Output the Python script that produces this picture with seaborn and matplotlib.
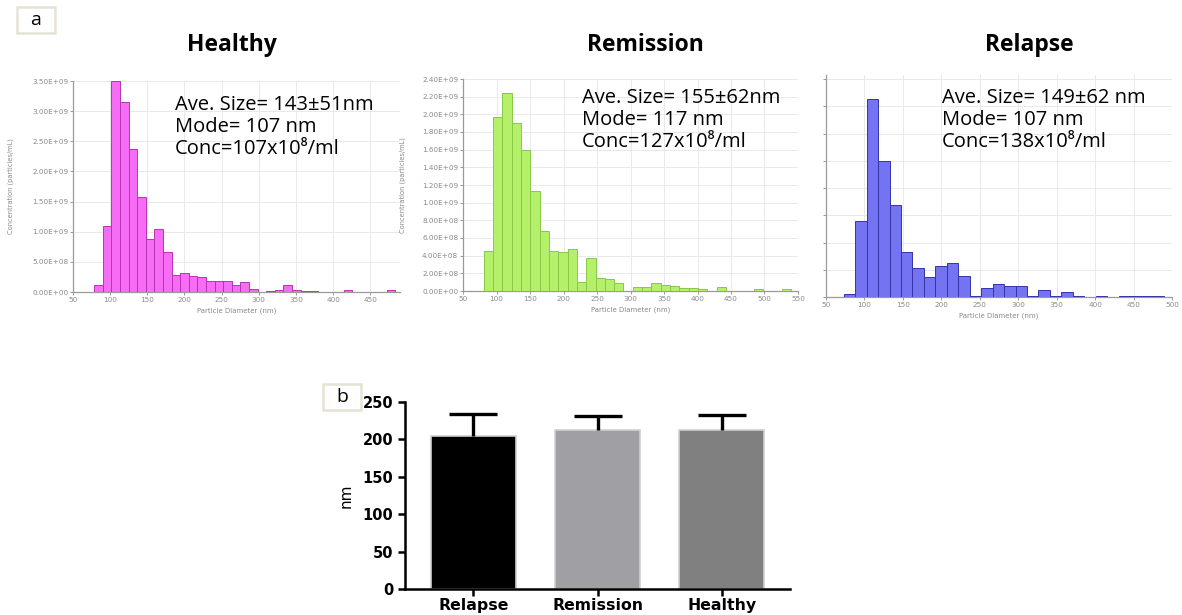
import numpy as np
import pandas as pd
import matplotlib
matplotlib.use("Agg")
import matplotlib.pyplot as plt
import seaborn as sns
from matplotlib.patches import Rectangle
from matplotlib.ticker import FuncFormatter, MultipleLocator

# ---------------- data ----------------
# Healthy NTA histogram (concentration in 1e9 particles/mL)
healthy_bin_start = 78.5
healthy_bin_width = 11.57
healthy_heights = [0.11, 1.10, 3.50, 3.15, 2.38, 1.57, 0.88, 1.04, 0.66, 0.28,
                   0.31, 0.27, 0.25, 0.18, 0.18, 0.18, 0.12, 0.16, 0.05, 0.00,
                   0.02, 0.03, 0.11, 0.04, 0.02, 0.02, 0.00, 0.00, 0.00, 0.03,
                   0.00, 0.00, 0.00, 0.00, 0.03]

# Remission NTA histogram (1e9 particles/mL)
remission_bin_start = 81.0
remission_bin_width = 13.9
remission_heights = [0.45, 1.97, 2.24, 1.90, 1.60, 1.13, 0.68, 0.45, 0.44, 0.47,
                     0.10, 0.37, 0.15, 0.14, 0.09, 0.00, 0.04, 0.04, 0.09, 0.07,
                     0.06, 0.03, 0.03, 0.02, 0.00, 0.05, 0.00, 0.00, 0.00, 0.02,
                     0.00, 0.00, 0.02]

# Relapse NTA histogram (axis units, labels not shown)
relapse_bin_start = 73.0
relapse_bin_width = 14.9
relapse_heights = [0.11, 2.80, 7.26, 5.00, 3.38, 1.65, 1.06, 0.73, 1.12, 1.24,
                   0.78, 0.05, 0.32, 0.49, 0.39, 0.39, 0.05, 0.27, 0.02, 0.18,
                   0.02, 0.00, 0.02, 0.00, 0.02, 0.02, 0.02, 0.02]

panel_titles = ["Healthy", "Remission", "Relapse"]
annotations = [
    "Ave. Size= 143±51nm\nMode= 107 nm\nConc=107x10⁸/ml",
    "Ave. Size= 155±62nm\nMode= 117 nm\nConc=127x10⁸/ml",
    "Ave. Size= 149±62 nm\nMode= 107 nm\nConc=138x10⁸/ml",
]

# Panel b: mean size (nm) with SD
groups = ["Relapse", "Remission", "Healthy"]
mean_nm = [205, 212, 212]
sd_nm = [29, 19, 21]

# ---------------- figure ----------------
W, H = 1182, 615
fig = plt.figure(figsize=(W / 100, H / 100), dpi=100)
fig.patch.set_facecolor("white")


def px_rect(left, top, right, bottom):
    return [left / W, 1 - bottom / H, (right - left) / W, (bottom - top) / H]


def sci_fmt(v, pos):
    return f"{v * 1e9:.2E}"


def draw_hist(rect, start, width, heights, xlim, xticks, ylim, ystep, fill, edge,
              show_ylabels, ylabel_x):
    ax = fig.add_axes(rect)
    n = len(heights)
    edges = [float(e) for e in (start + width * np.arange(n + 1))]
    centers = [(edges[i] + edges[i + 1]) / 2 for i in range(n)]
    df = pd.DataFrame({"d": centers, "c": heights})
    sns.histplot(data=df, x="d", weights="c", bins=edges, ax=ax,
                 color=fill, edgecolor=edge, linewidth=0.7, alpha=1.0, zorder=3)
    ax.set_xlim(*xlim)
    ax.set_ylim(*ylim)
    ax.set_xticks(xticks)
    ax.yaxis.set_major_locator(MultipleLocator(ystep))
    ax.grid(True, color="#e9e9e9", linewidth=0.7, zorder=0)
    ax.set_axisbelow(True)
    for s in ["top", "right"]:
        ax.spines[s].set_visible(False)
    for s in ["left", "bottom"]:
        ax.spines[s].set_color("#9a9a9a")
        ax.spines[s].set_linewidth(0.9)
    ax.tick_params(axis="both", labelsize=5.2, colors="#8a8a8a", length=2,
                   width=0.6, pad=1.5)
    if show_ylabels:
        ax.yaxis.set_major_formatter(FuncFormatter(sci_fmt))
        ax.set_ylabel("Concentration (particles/mL)", fontsize=4.8, color="#8a8a8a")
        ax.yaxis.set_label_coords(ylabel_x, 0.5)
    else:
        ax.set_yticklabels([])
        ax.set_ylabel("")
    ax.set_xlabel("Particle Diameter (nm)", fontsize=5, color="#8a8a8a", labelpad=3)
    return ax


draw_hist(px_rect(73, 81, 400, 292), healthy_bin_start, healthy_bin_width,
          healthy_heights, (50, 490), np.arange(50, 451, 50), (0, 3.5), 0.5,
          "#f76cf4", "#b834b6", True, -0.18)
draw_hist(px_rect(463, 79, 798, 291), remission_bin_start, remission_bin_width,
          remission_heights, (50, 550), np.arange(50, 551, 50), (0, 2.4), 0.2,
          "#b4f06a", "#88c846", True, -0.17)
draw_hist(px_rect(826, 75, 1172, 297), relapse_bin_start, relapse_bin_width,
          relapse_heights, (50, 500), np.arange(50, 501, 50), (0, 8.15), 1,
          "#7474f2", "#3434a8", False, 0)

# titles
title_font = ["Open Sans", "DejaVu Sans"]
for title, cx in zip(panel_titles, [232, 645, 1029]):
    fig.text(cx / W, 1 - 45 / H, title, ha="center", va="center",
             fontsize=16.5, fontweight="bold", family=title_font)

# annotations
ann_font = ["Open Sans", "DejaVu Sans"]
for txt, (lx, ty) in zip(annotations, [(175, 95), (582, 88), (942, 88)]):
    fig.text(lx / W, 1 - ty / H, txt, ha="left", va="top", fontsize=14.5,
             family=ann_font, linespacing=1.12)


# panel labels
def panel_label(letter, left, top, right, bottom):
    fig.patches.append(Rectangle((left / W, 1 - bottom / H), (right - left) / W,
                                 (bottom - top) / H, transform=fig.transFigure,
                                 facecolor="white", edgecolor="#e6e2d4",
                                 linewidth=1.8))
    fig.text((left + right) / 2 / W, 1 - (top + bottom) / 2 / H, letter,
             ha="center", va="center", fontsize=14, family=["Open Sans", "DejaVu Sans"])


panel_label("a", 17, 7, 55, 33)
panel_label("b", 323, 384, 361, 410)

# ---------------- panel b ----------------
axb = fig.add_axes(px_rect(405, 402, 790, 589))
dfb = pd.DataFrame({"group": groups, "nm": mean_nm})
sns.barplot(data=dfb, x="group", y="nm", hue="group",
            palette=["#000000", "#a0a0a4", "#808080"], width=0.68,
            edgecolor="#cfcfcf", linewidth=1.2, errorbar=None, legend=False,
            ax=axb, zorder=2)
eb = axb.errorbar(np.arange(len(groups)), mean_nm,
                  yerr=[np.zeros(len(groups)), sd_nm], fmt="none", ecolor="black",
                  elinewidth=2.4, capsize=17, capthick=2.4, zorder=3)
eb[1][0].set_visible(False)
axb.set_xlim(-0.55, 2.55)
axb.set_ylim(0, 250)
axb.set_yticks(np.arange(0, 251, 50))
for s in ["top", "right"]:
    axb.spines[s].set_visible(False)
for s in ["left", "bottom"]:
    axb.spines[s].set_linewidth(1.8)
    axb.spines[s].set_color("black")
axb.tick_params(axis="both", direction="out", length=5, width=1.8, labelsize=10.5)
axb.tick_params(axis="x", pad=1.5, labelsize=11.3)
for lab in axb.get_xticklabels() + axb.get_yticklabels():
    lab.set_fontweight("bold")
    lab.set_family(["DejaVu Sans"])
axb.set_xlabel("")
axb.set_ylabel("nm", fontsize=11, family=["DejaVu Sans"], labelpad=6)

fig.savefig("out.png", dpi=100, facecolor="white")
